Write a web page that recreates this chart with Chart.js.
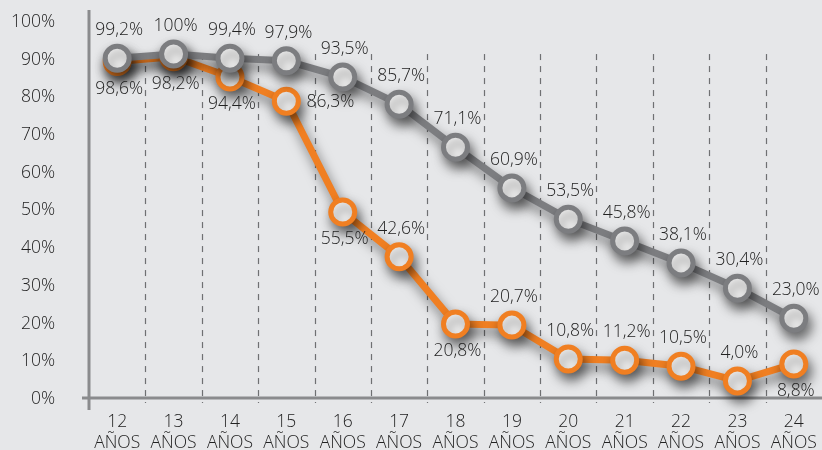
<!DOCTYPE html>
<html>
<head>
<meta charset="utf-8">
<script src="https://cdn.jsdelivr.net/npm/chart.js@4.4.0/dist/chart.umd.min.js"></script>
<style>
html, body { margin: 0; padding: 0; background: #e6e7e9; }
canvas { display: block; }
</style>
</head>
<body>
<canvas id="grafico" width="822" height="450"></canvas>
<script>
var edades = ["12", "13", "14", "15", "16", "17", "18", "19", "20", "21", "22", "23", "24"];

// posiciones (el original no es proporcional a sus etiquetas)
var grisValores = [90.4, 91.5, 90.4, 89.7, 85.4, 78.2, 66.8, 56.0, 47.7, 41.9, 36.1, 29.4, 21.4];
var naranjaValores = [89.5, 90.8, 85.4, 79.0, 49.6, 37.7, 19.9, 19.6, 10.6, 10.3, 8.7, 4.8, 9.3];

var grisEtiquetas = ["99,2%", "100%", "99,4%", "97,9%", "93,5%", "85,7%", "71,1%", "60,9%", "53,5%", "45,8%", "38,1%", "30,4%", "23,0%"];
var naranjaEtiquetas = ["98,6%", "98,2%", "94,4%", "86,3%", "55,5%", "42,6%", "20,8%", "20,7%", "10,8%", "11,2%", "10,5%", "4,0%", "8,8%"];

var ticksY = [0, 10, 20, 30, 40, 50, 60, 70, 80, 90, 100];

// donde va cada etiqueta respecto a su punto
var lugarGris = ["a", "a", "a", "a", "a", "a", "a", "a", "a", "a", "a", "a", "a"];
var lugarNaranja = ["b", "b", "b", "d", "b", "a", "b", "a", "a", "a", "a", "a", "b"];

var fuente = '"Open Sans", "Liberation Sans", sans-serif';

var fondo = {
    id: 'fondo',
    beforeDraw: function(chart) {
        var ctx = chart.ctx;
        ctx.save();
        ctx.fillStyle = '#e6e7e9';
        ctx.fillRect(0, 0, chart.width, chart.height);
        ctx.restore();
    }
};

var rejilla = {
    id: 'rejilla',
    beforeDatasetsDraw: function(chart) {
        var ctx = chart.ctx, x = chart.scales.x, y = chart.scales.y, a = chart.chartArea;
        ctx.save();
        ctx.strokeStyle = '#6f7072';
        ctx.lineWidth = 1.2;
        ctx.setLineDash([6, 6]);
        for (var i = 0; i < edades.length - 1; i++) {
            var px = Math.round((x.getPixelForValue(i) + x.getPixelForValue(i + 1)) / 2) + 0.5;
            ctx.beginPath();
            ctx.moveTo(px, y.getPixelForValue(91.5));
            ctx.lineTo(px, a.bottom + 4);
            ctx.stroke();
        }
        ctx.setLineDash([]);
        // ejes
        ctx.strokeStyle = '#8a8b8d';
        ctx.lineWidth = 3;
        ctx.beginPath();
        ctx.moveTo(a.left, a.top - 12);
        ctx.lineTo(a.left, a.bottom + 11);
        ctx.moveTo(a.left - 7, a.bottom - 1);
        ctx.lineTo(chart.width, a.bottom - 1);
        ctx.stroke();
        ctx.restore();
    }
};

var sombra = {
    id: 'sombra',
    beforeDatasetDraw: function(chart) {
        var ctx = chart.ctx;
        ctx.save();
        ctx.shadowColor = 'rgba(0,0,0,0.5)';
        ctx.shadowBlur = 12;
        ctx.shadowOffsetX = 3;
        ctx.shadowOffsetY = 7;
    },
    afterDatasetDraw: function(chart) {
        chart.ctx.restore();
    }
};

var etiquetas = {
    id: 'etiquetas',
    afterDatasetsDraw: function(chart) {
        var ctx = chart.ctx;
        var textos = [grisEtiquetas, naranjaEtiquetas];
        var lugares = [lugarGris, lugarNaranja];
        ctx.save();
        ctx.font = '300 17.5px ' + fuente;
        ctx.fillStyle = '#222222';
        ctx.textAlign = 'center';
        ctx.textBaseline = 'middle';
        for (var d = 0; d < 2; d++) {
            var pts = chart.getDatasetMeta(d).data;
            for (var i = 0; i < pts.length; i++) {
                var dx = 2, dy = -28;
                if (lugares[d][i] == 'b') dy = 27;
                if (lugares[d][i] == 'd') { dx = 44; dy = 1; }
                ctx.fillText(textos[d][i], pts[i].x + dx, pts[i].y + dy);
            }
        }
        ctx.restore();
    }
};

new Chart(document.getElementById('grafico'), {
    type: 'line',
    data: {
        labels: edades.map(function(e) { return [e, 'AÑOS']; }),
        datasets: [
            {
                label: 'gris',
                data: grisValores,
                borderColor: '#7c7d80',
                borderWidth: 7,
                pointRadius: 12,
                pointBorderWidth: 5,
                pointBackgroundColor: '#ffffff',
                pointBorderColor: '#7c7d80',
                tension: 0,
                clip: false
            },
            {
                label: 'naranja',
                data: naranjaValores,
                borderColor: '#f07f22',
                borderWidth: 7,
                pointRadius: 12,
                pointBorderWidth: 5,
                pointBackgroundColor: '#ffffff',
                pointBorderColor: '#f07f22',
                tension: 0,
                clip: false
            }
        ]
    },
    options: {
        responsive: false,
        animation: false,
        layout: { autoPadding: false, padding: { top: 22, right: 0, left: 0, bottom: 0 } },
        plugins: {
            legend: { display: false },
            tooltip: { enabled: false }
        },
        scales: {
            x: {
                offset: true,
                grid: { display: false, drawTicks: false },
                border: { display: false },
                ticks: {
                    color: '#222222',
                    padding: 13,
                    maxRotation: 0,
                    autoSkip: false,
                    font: { family: fuente, size: 17.5, weight: '300', lineHeight: 1.2 }
                },
                afterFit: function(s) {
                    s.height = 51;
                    s.paddingLeft = 0;
                    s.paddingRight = 0;
                }
            },
            y: {
                min: 0,
                max: 100,
                grid: { display: false, drawTicks: false },
                border: { display: false },
                afterBuildTicks: function(s) {
                    s.ticks = ticksY.map(function(v) { return { value: v }; });
                },
                ticks: {
                    color: '#222222',
                    padding: 34,
                    font: { family: fuente, size: 17.5, weight: '300' },
                    callback: function(v) { return v + '%'; }
                },
                afterFit: function(s) {
                    s.width = 89;
                    s.paddingTop = 0;
                    s.paddingBottom = 0;
                }
            }
        }
    },
    plugins: [fondo, rejilla, sombra, etiquetas]
});
</script>
</body>
</html>
